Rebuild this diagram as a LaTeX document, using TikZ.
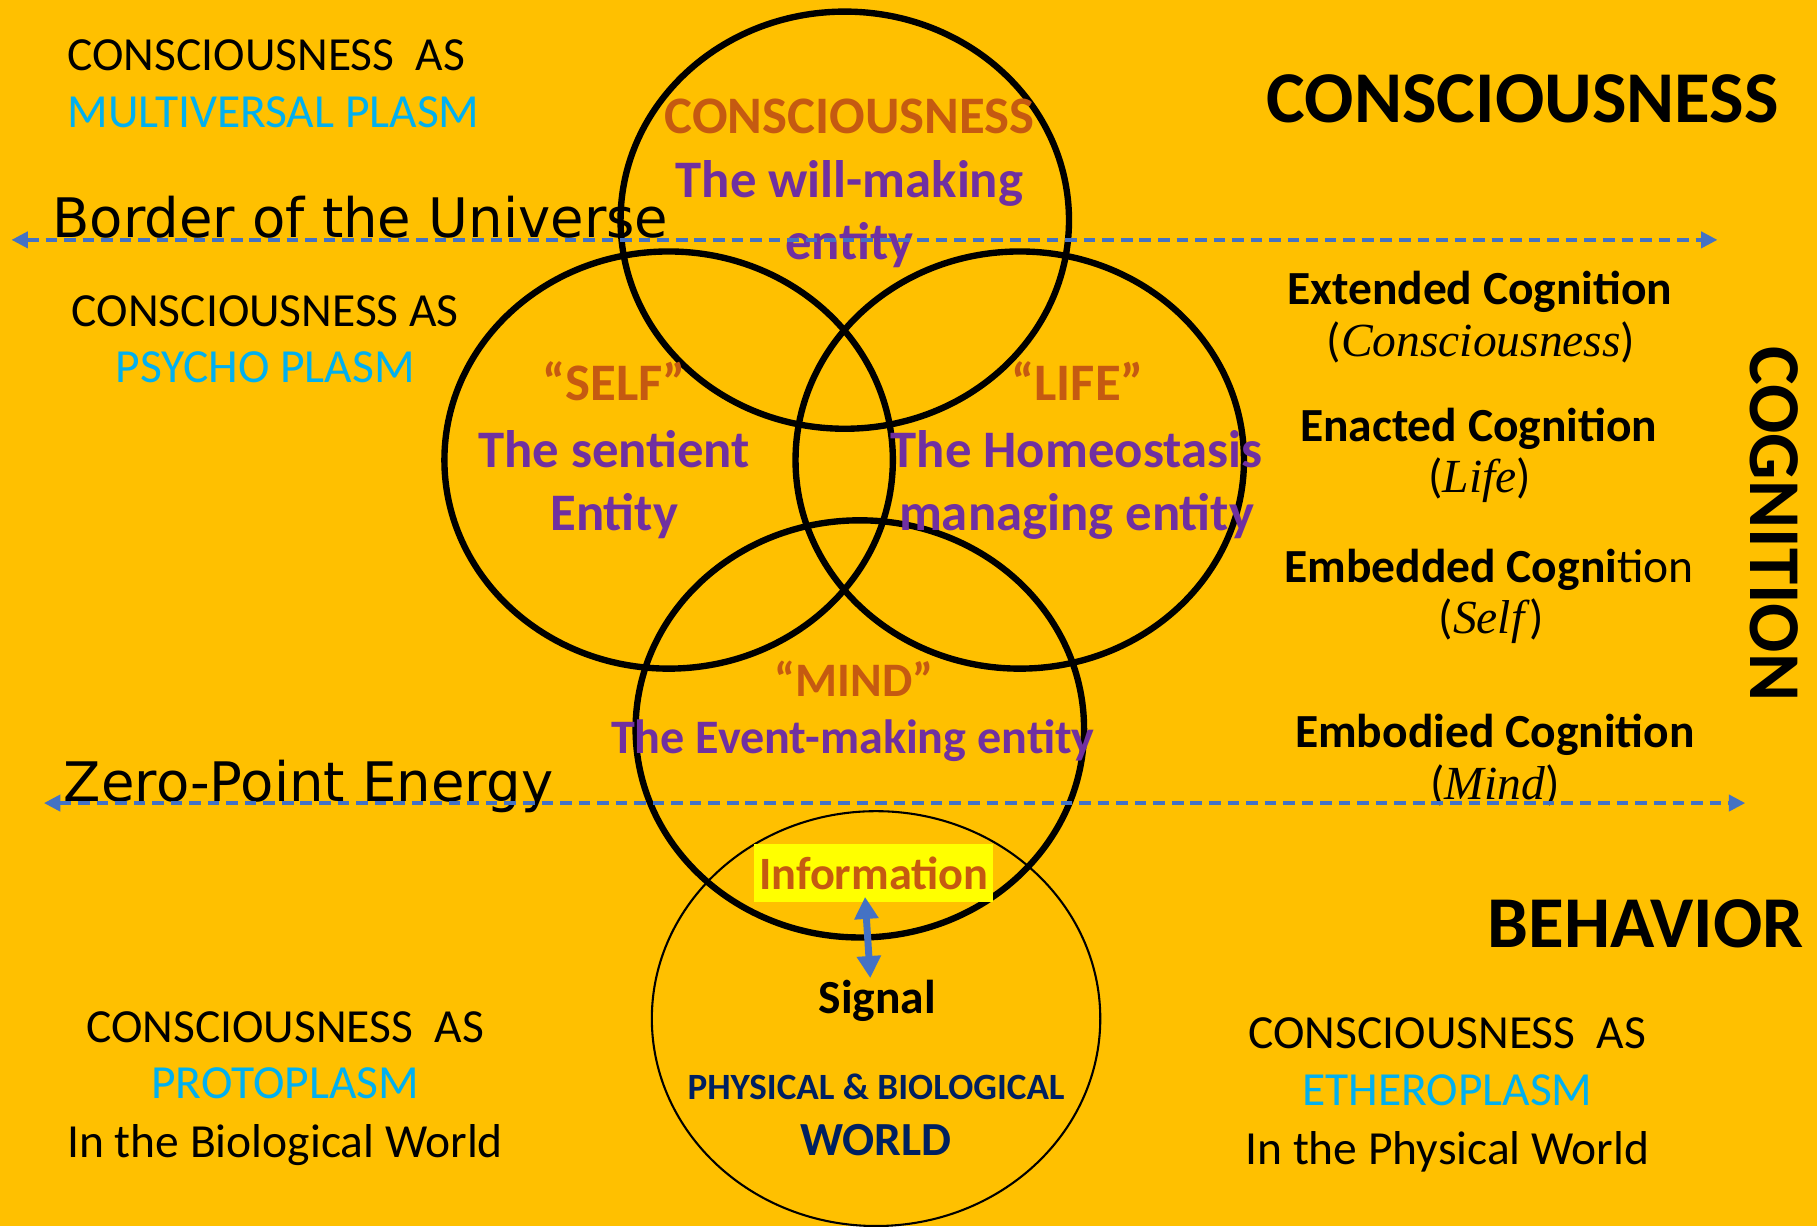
\documentclass[tikz,border=0pt]{standalone}
\usepackage{fontspec}
\setmainfont{Carlito}
\newfontfamily\handfont{DejaVu Sans}
\newfontfamily\caligfont{Liberation Serif}
\usetikzlibrary{arrows.meta,shapes.geometric}
\definecolor{bgc}{HTML}{FFC000}
\definecolor{orc}{HTML}{C55A11}
\definecolor{puc}{HTML}{7030A0}
\definecolor{cyc}{HTML}{00B0F0}
\definecolor{nvc}{HTML}{002060}
\definecolor{blc}{HTML}{4472C4}
\definecolor{ylc}{HTML}{FFFF00}
\tikzset{
  ring/.style={draw=black, line width=5.5pt, ellipse, inner sep=0pt,
    minimum width=387pt, minimum height=360pt},
  thinring/.style={draw=black, line width=1.8pt, ellipse, inner sep=0pt,
    minimum width=387pt, minimum height=358pt},
  reg/.style={inner sep=0pt, anchor=base, font=\fontsize{41}{49}\selectfont},
  bigt/.style={inner sep=0pt, anchor=base, font=\fontsize{63}{70}\selectfont\bfseries},
  circt/.style={inner sep=0pt, anchor=base, font=\fontsize{45.5}{50}\selectfont\bfseries},
  mindt/.style={inner sep=0pt, anchor=base, font=\fontsize{41.5}{46}\selectfont\bfseries},
  cogt/.style={inner sep=0pt, anchor=base, font=\fontsize{41}{49}\selectfont\bfseries},
  part/.style={inner sep=0pt, anchor=base, font=\fontsize{41}{49}\selectfont},
  hwt/.style={inner sep=0pt, anchor=base west, font=\handfont\fontsize{47}{50}\selectfont},
  dline/.style={draw=blc, line width=2.8pt, dash pattern=on 10pt off 6pt,
    {Triangle[length=14pt,width=14pt]}-{Triangle[length=14pt,width=14pt]}},
  dblarrow/.style={draw=blc, line width=6pt,
    {Triangle[length=19pt,width=20pt]}-{Triangle[length=19pt,width=20pt]}}
}
\begin{document}
\begin{tikzpicture}[x=1pt,y=-1pt]
\fill[bgc] (0,0) rectangle (1568,1058);
\useasboundingbox (0,0) rectangle (1568,1058);

% rings
\node[ring] (cC) at (729,190) {};
\node[ring] (cS) at (577,397) {};
\node[ring] (cL) at (880,397) {};
\node[ring] (cM) at (742,629) {};
\node[thinring] (cW) at (756,879) {};

% left texts
\node[reg, anchor=base west] (t1a) at (58,61) {CONSCIOUSNESS\ \ AS};
\node[reg, anchor=base west, text=cyc] (t1b) at (58,110) {MULTIVERSAL PLASM};
\node[reg] (t2a) at (229,282) {CONSCIOUSNESS AS};
\node[reg, text=cyc] (t2b) at (229,330) {PSYCHO PLASM};
\node[reg] (t3a) at (246,900) {CONSCIOUSNESS\ \ AS};
\node[reg, text=cyc] (t3b) at (246,948) {PROTOPLASM};
\node[reg] (t3c) at (246,999) {In the Biological World};
\node[reg] (t4a) at (1249,905) {CONSCIOUSNESS\ \ AS};
\node[reg, text=cyc] (t4b) at (1249,954) {ETHEROPLASM};
\node[reg] (t4c) at (1249,1005) {In the Physical World};

% big titles
\node[bigt] (hC) at (1314,106) {CONSCIOUSNESS};
\node[bigt] (hB) at (1420,818) {BEHAVIOR};
\node[bigt, anchor=center, rotate=-90] (hG) at (1531,452) {COGNITION};

% cognition labels
\node[cogt] (g1) at (1277,263) {Extended Cognition};
\node[part] (g1b) at (1278,308) {({\caligfont\itshape Consciousness\/})};
\node[cogt] (g2) at (1276,381) {Enacted Cognition};
\node[part] (g2b) at (1277,425) {({\caligfont\itshape Life\/})};
\node[cogt] (g3) at (1285,503) {Embedded Cogni\mdseries tion};
\node[part] (g3b) at (1287,547) {({\caligfont\itshape Self\/})};
\node[cogt] (g4) at (1290,645) {Embodied Cognition};
\node[part] (g4b) at (1290,690) {({\caligfont\itshape Mind\/})};

% circle texts
\node[circt, text=orc] (k1) at (733,115) {CONSCIOUSNESS};
\node[circt, text=puc] (k2) at (733,170) {The will-making};
\node[circt, text=puc] (k3) at (733,224) {entity};
\node[circt, text=orc] (s1) at (530,346) {“SELF”};
\node[circt, text=puc] (s2) at (530,403) {The sentient};
\node[circt, text=puc] (s3) at (530,458) {Entity};
\node[circt, text=orc] (l1) at (930,346) {“LIFE”};
\node[circt, text=puc] (l2) at (929,403) {The Homeostasis};
\node[circt, text=puc] (l3) at (929,458) {managing entity};
\node[mindt, text=orc] (m1) at (737,601) {“MIND”};
\node[mindt, text=puc] (m2) at (736,650) {The Event-making entity};

% world
\node[fill=ylc, text=orc, font=\fontsize{40}{44}\selectfont\bfseries,
  inner xsep=4pt, inner ysep=0pt, minimum height=50pt, anchor=center] (info) at (754,753.5) {Information};
\node[cogt] (sig) at (757,875) {Signal};
\node[inner sep=0pt, anchor=base, text=nvc, font=\fontsize{32}{36}\selectfont\bfseries] (pb) at (756,949) {PHYSICAL \& BIOLOGICAL};
\node[inner sep=0pt, anchor=base, text=nvc, font=\fontsize{41}{46}\selectfont\bfseries] (wd) at (756,997) {WORLD};

\coordinate (aT) at (746.5,774);
\coordinate (aB) at (751,844);
\draw[dblarrow] (aT) -- (aB);

% hand-written labels
\node[hwt] (bu) at (45,205) {Border of the Universe};
\node[hwt] (zp) at (55,692) {Zero-Point Energy};

% dashed borders
\coordinate (bL) at (10,207);
\coordinate (bR) at (1482,207);
\coordinate (zL) at (38,693);
\coordinate (zR) at (1506,693);
\draw[dline] (bL) -- (bR);
\draw[dline] (zL) -- (zR);
\end{tikzpicture}
\end{document}
